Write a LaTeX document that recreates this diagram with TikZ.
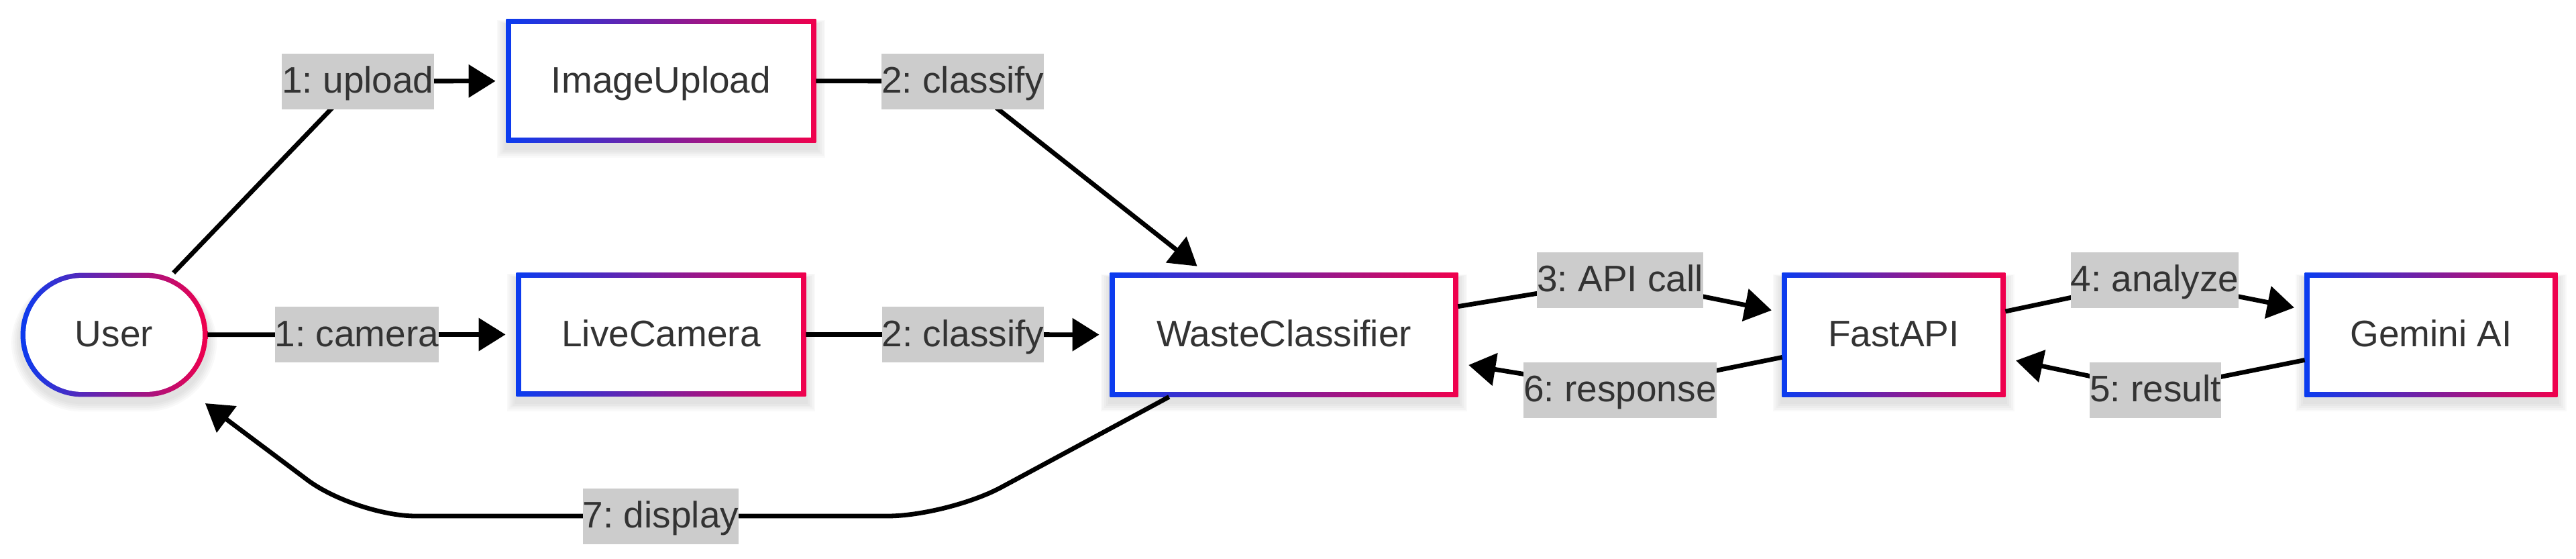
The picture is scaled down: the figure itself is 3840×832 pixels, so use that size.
\documentclass[tikz,border=0pt]{standalone}
\usepackage{fontspec}
\setmainfont{Liberation Sans}
\usetikzlibrary{arrows.meta,calc}
\definecolor{gblue}{HTML}{0A3CF0}
\definecolor{gred}{HTML}{F0004C}
\definecolor{lblgray}{HTML}{CCCCCC}
\definecolor{txt}{HTML}{333333}
\pgfdeclarelayer{bg}
\pgfdeclarelayer{edges}
\pgfsetlayers{bg,edges,main}
\frenchspacing
\begin{document}
\begin{tikzpicture}[x=0.5pt,y=-0.5pt,
  every node/.style={font=\fontsize{27.5pt}{33pt}\selectfont, text=txt, text height=23pt, text depth=5.5pt, inner sep=0pt},
  proc/.style={rectangle, minimum height=92pt},
  lbl/.style={fill=lblgray, minimum height=41.5pt},
  flow/.style={line width=3.4pt, black, -{Triangle[length=20pt,width=24pt]}, shorten >=8pt},
  shadowlayer/.style={fill=black, opacity=0.022},
]
\useasboundingbox (0,0) rectangle (3840,832);

% process nodes
\node[proc, minimum width=139pt] (user) at (170,499) {User};
\node[proc, minimum width=230.5pt] (img) at (985.5,120.5) {ImageUpload};
\node[proc, minimum width=215.5pt] (cam) at (985.5,498.5) {LiveCamera};
\node[proc, minimum width=259pt] (wc) at (1914,499) {WasteClassifier};
\node[proc, minimum width=166pt] (fast) at (2823,499) {FastAPI};
\node[proc, minimum width=188pt] (gem) at (3624,499) {Gemini AI};

% edge labels
\node[lbl] (l1u) at (533.5,121) {1: upload};
\node[lbl] (l1c) at (532,498.5) {1: camera};
\node[lbl] (l2u) at (1435,121) {2: classify};
\node[lbl] (l2c) at (1435.5,498.5) {2: classify};
\node[lbl] (l3) at (2415,417) {3: API call};
\node[lbl] (l4) at (3212,417) {4: analyze};
\node[lbl] (l5) at (3213,581) {5: result};
\node[lbl] (l6) at (2415,581) {6: response};
\node[lbl] (l7) at (985,769) {7: display};
\coordinate (p1) at (1413,769);
\coordinate (p2) at (530,769);

% frames with gradient borders
\begin{pgfonlayer}{bg}
\foreach \n in {img,cam,wc,fast,gem}{
  \foreach \k in {1,...,5}{
    \fill[shadowlayer] ([shift={(-\k*1.4pt,-\k*1.4pt-4pt)}]\n.south west) rectangle ([shift={(\k*1.4pt,\k*0.6pt-4pt)}]\n.north east);
  }
  \shade[left color=gblue,right color=gred] (\n.south west) rectangle (\n.north east);
  \fill[white] ([shift={(3.75pt,3.75pt)}]\n.south west) rectangle ([shift={(-3.75pt,-3.75pt)}]\n.north east);
}
\foreach \k in {1,...,5}{
  \fill[shadowlayer, rounded corners=45.75pt+\k*1.4pt] ([shift={(-\k*1.4pt,-\k*1.4pt-4pt)}]user.south west) rectangle ([shift={(\k*1.4pt,\k*0.6pt-4pt)}]user.north east);
}
\shade[left color=gblue,right color=gred, rounded corners=45.75pt] (user.south west) rectangle (user.north east);
\fill[white, rounded corners=42pt] ([shift={(3.75pt,3.75pt)}]user.south west) rectangle ([shift={(-3.75pt,-3.75pt)}]user.north east);
\end{pgfonlayer}

% connectors
\begin{pgfonlayer}{edges}
\draw[flow] (user) -- (l1u.center) -- (img);
\draw[flow] (user) -- (l1c.center) -- (cam);
\draw[flow] (img) -- (l2u.center) -- (wc);
\draw[flow] (cam) -- (l2c.center) -- (wc);
\draw[flow] (wc) -- (l3.center) -- (fast);
\draw[flow] (fast) -- (l4.center) -- (gem);
\draw[flow] (gem) -- (l5.center) -- (fast);
\draw[flow] (fast) -- (l6.center) -- (wc);
\draw[flow, rounded corners=45pt] (wc) -- (p1) -- (l7.center) -- (p2) -- (user);
\end{pgfonlayer}
\end{tikzpicture}
\end{document}
